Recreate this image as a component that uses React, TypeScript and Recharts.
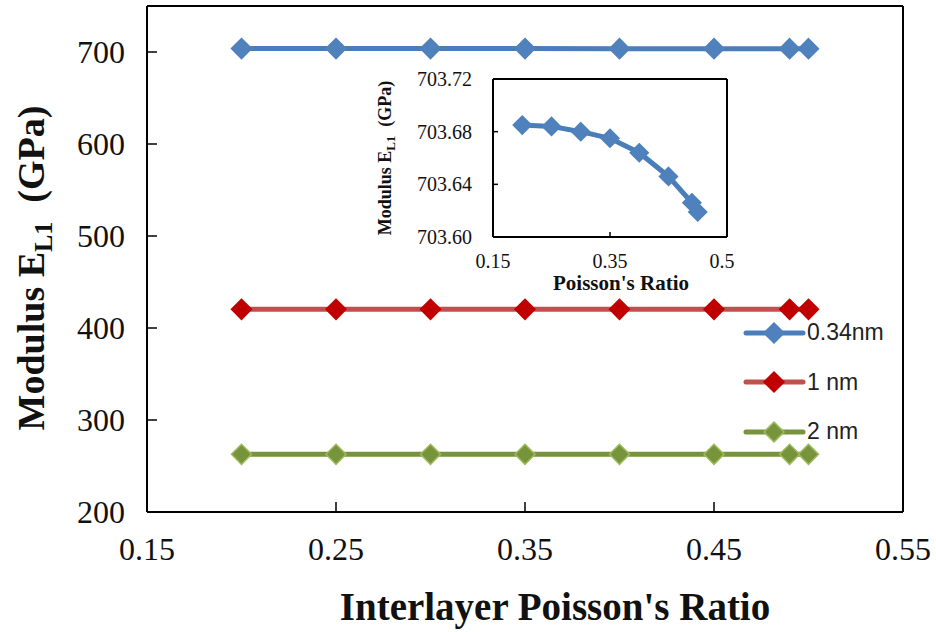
import { Label, Line, LineChart, ReferenceLine, XAxis, YAxis } from "recharts";

// Interlayer Poisson's ratio values used for every series
const poisson = [0.2, 0.25, 0.3, 0.35, 0.4, 0.45, 0.49, 0.5];

// Modulus E_L1 (GPa) per shell thickness
const modulus034 = [703.685, 703.684, 703.68, 703.675, 703.664, 703.646, 703.626, 703.619];
const modulus1 = [420.3, 420.3, 420.3, 420.3, 420.3, 420.3, 420.3, 420.3];
const modulus2 = [262.7, 262.7, 262.7, 262.7, 262.7, 262.7, 262.7, 262.7];

const xTicks = [0.15, 0.25, 0.35, 0.45, 0.55];
const yTicks = [200, 300, 400, 500, 600, 700];
const insetXTicks = [0.15, 0.35, 0.55];
const insetYTicks = [703.6, 703.64, 703.68, 703.72];

const series = [
  { key: "t034", name: "0.34nm", line: "#4A7EBB", fill: "#4F81BD", edge: "#4F81BD" },
  { key: "t1", name: "1 nm", line: "#C0504D", fill: "#C00000", edge: "#C00000" },
  { key: "t2", name: "2 nm", line: "#77933C", fill: "#77933C", edge: "#9BBB59" },
];

const data = poisson.map((p, i) => ({
  p,
  t034: modulus034[i],
  t1: modulus1[i],
  t2: modulus2[i],
}));

const insetData = poisson.map((p, i) => ({ p, v: modulus034[i] }));

const SERIF = "'Liberation Serif', 'Times New Roman', serif";
const SANS = "'Liberation Sans', Arial, sans-serif";

const diamond = (r: number, fill: string, edge: string) => (props: any) => {
  const { cx, cy, index } = props;
  if (cx == null || cy == null) return <g key={index} />;
  return (
    <path
      key={index}
      d={`M${cx},${cy - r}L${cx + r},${cy}L${cx},${cy + r}L${cx - r},${cy}Z`}
      fill={fill}
      stroke={edge}
      strokeWidth={1.5}
    />
  );
};

// legend sits inside the plot, so keep it out of recharts' layout
const LegendBox = () => (
  <div style={{ position: "absolute", left: 743, top: 308, fontFamily: SANS, fontSize: 23, color: "#222" }}>
    {series.map((s) => (
      <div key={s.key} style={{ display: "flex", alignItems: "center", height: 49.5 }}>
        <svg width={64} height={24}>
          <line x1={3} x2={60} y1={12} y2={12} stroke={s.line} strokeWidth={5} strokeLinecap="round" />
          <path d="M31,2L41,12L31,22L21,12Z" fill={s.fill} stroke={s.edge} strokeWidth={1.5} />
        </svg>
        <span>{s.name}</span>
      </div>
    ))}
  </div>
);

const Inset = () => (
  <div style={{ position: "absolute", left: 360, top: 60, width: 375, height: 240, overflow: "hidden" }}>
    <LineChart width={420} height={240} data={insetData} margin={{ top: 19, right: 53, bottom: 23, left: 63 }}>
      <XAxis
        dataKey="p"
        type="number"
        domain={[0.15, 0.55]}
        ticks={insetXTicks}
        tickFormatter={(v: number) => v.toFixed(2)}
        axisLine={{ stroke: "#000", strokeWidth: 2 }}
        tickLine={{ stroke: "#000", strokeWidth: 1.5 }}
        tickSize={-5}
        tickMargin={22}
        height={40}
        tick={{ fill: "#111", fontSize: 20, fontFamily: SERIF }}
        interval={0}
      >
        <Label
          content={({ viewBox }: any) => (
            <text
              x={viewBox.x + viewBox.width / 2 + 11}
              y={230}
              textAnchor="middle"
              fontFamily={SERIF}
              fontWeight="bold"
              fontSize={21}
              fill="#111"
            >
              Poisson's Ratio
            </text>
          )}
        />
      </XAxis>
      <YAxis
        type="number"
        domain={[703.6, 703.72]}
        ticks={insetYTicks}
        tickFormatter={(v: number) => v.toFixed(2)}
        axisLine={{ stroke: "#000", strokeWidth: 2 }}
        tickLine={{ stroke: "#000", strokeWidth: 1.5 }}
        tickSize={-5}
        tickMargin={26}
        width={70}
        tick={{ fill: "#111", fontSize: 20, fontFamily: SERIF }}
        interval={0}
      >
        <Label
          content={({ viewBox }: any) => {
            const x = 31;
            const y = viewBox.y + viewBox.height / 2;
            return (
              <text
                x={x}
                y={y}
                transform={`rotate(-90, ${x}, ${y})`}
                textAnchor="middle"
                fontFamily={SERIF}
                fontWeight="bold"
                fontSize={18}
                fill="#111"
              >
                <tspan>Modulus E</tspan>
                <tspan fontSize={13} dy={4}>L1</tspan>
                <tspan dy={-4}>{"\u00a0\u00a0(GPa)"}</tspan>
              </text>
            );
          }}
        />
      </YAxis>
      {/* top and right edges of the inset frame */}
      <ReferenceLine y={703.72} stroke="#000" strokeWidth={2} />
      <ReferenceLine x={0.55} stroke="#000" strokeWidth={2} />
      <Line
        dataKey="v"
        stroke="#4A7EBB"
        strokeWidth={5}
        dot={diamond(9, "#4F81BD", "#4F81BD")}
        activeDot={false}
        isAnimationActive={false}
      />
    </LineChart>
  </div>
);

export default function App() {
  return (
    <div style={{ position: "absolute", left: 0, top: 0, width: 936, height: 632, background: "#fff" }}>
      <LineChart width={936} height={632} data={data} margin={{ top: 6, right: 33, bottom: 60, left: 67 }}>
        <XAxis
          dataKey="p"
          type="number"
          domain={[0.15, 0.55]}
          ticks={xTicks}
          tickFormatter={(v: number) => v.toFixed(2)}
          axisLine={{ stroke: "#000", strokeWidth: 2 }}
          tickLine={{ stroke: "#000", strokeWidth: 1.5 }}
          tickSize={-10}
          tickMargin={35}
          height={60}
          tick={{ fill: "#111", fontSize: 32, fontFamily: SERIF }}
          interval={0}
        >
          <Label
            content={({ viewBox }: any) => (
              <text
                x={viewBox.x + viewBox.width / 2 + 30}
                y={620}
                textAnchor="middle"
                fontFamily={SERIF}
                fontWeight="bold"
                fontSize={39}
                fill="#111"
              >
                Interlayer Poisson's Ratio
              </text>
            )}
          />
        </XAxis>
        <YAxis
          type="number"
          domain={[200, 750]}
          ticks={yTicks}
          axisLine={{ stroke: "#000", strokeWidth: 2 }}
          tickLine={{ stroke: "#000", strokeWidth: 1.5 }}
          tickSize={-10}
          tickMargin={32}
          width={80}
          tick={{ fill: "#111", fontSize: 32, fontFamily: SERIF }}
          interval={0}
        >
          <Label
            content={({ viewBox }: any) => {
              const x = 44;
              const y = viewBox.y + viewBox.height / 2 + 9;
              return (
                <text
                  x={x}
                  y={y}
                  transform={`rotate(-90, ${x}, ${y})`}
                  textAnchor="middle"
                  fontFamily={SERIF}
                  fontWeight="bold"
                  fontSize={38}
                  fill="#111"
                >
                  <tspan>Modulus E</tspan>
                  <tspan fontSize={26} dy={8}>L1</tspan>
                  <tspan dy={-8}>{"\u00a0\u00a0(GPa)"}</tspan>
                </text>
              );
            }}
          />
        </YAxis>
        {/* top and right edges of the plot frame */}
        <ReferenceLine y={750} stroke="#000" strokeWidth={2} />
        <ReferenceLine x={0.55} stroke="#000" strokeWidth={2} />
        {series.map((s) => (
          <Line
            key={s.key}
            dataKey={s.key}
            name={s.name}
            stroke={s.line}
            strokeWidth={5}
            dot={diamond(10, s.fill, s.edge)}
            activeDot={false}
            isAnimationActive={false}
          />
        ))}
      </LineChart>
      <LegendBox />
      <Inset />
    </div>
  );
}
